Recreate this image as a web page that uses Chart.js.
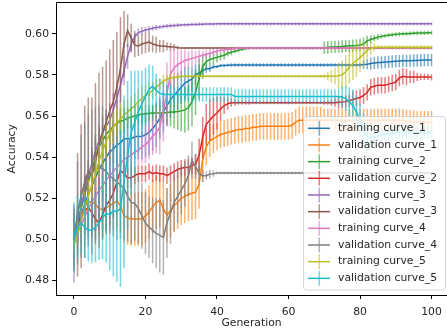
<!DOCTYPE html>
<html>
<head>
<meta charset="utf-8">
<script src="https://cdn.jsdelivr.net/npm/chart.js@4/dist/chart.umd.min.js"></script>
<style>
  html, body { margin: 0; padding: 0; background: #fff; }
  canvas { display: block; }
</style>
</head>
<body>
<canvas id="chart" width="447" height="331"></canvas>
<script>
// x values (generation number)
var generations = [0,1,2,3,4,5,6,7,8,9,10,11,12,13,14,15,16,17,18,19,20,21,22,23,24,25,26,27,28,29,30,31,32,33,34,35,36,37,38,39,40,41,42,43,44,45,46,47,48,49,50,51,52,53,54,55,56,57,58,59,60,61,62,63,64,65,66,67,68,69,70,71,72,73,74,75,76,77,78,79,80,81,82,83,84,85,86,87,88,89,90,91,92,93,94,95,96,97,98,99,100];

// training curve_1
var trainMean1 = [
  0.500,0.506,0.512,0.517,0.522,0.526,0.530,0.534,0.537,0.540,
  0.5425,0.544,0.546,0.547,0.549,0.549,0.549,0.550,0.550,0.550,
  0.551,0.552,0.554,0.556,0.559,0.562,0.565,0.568,0.570,0.572,
  0.574,0.576,0.577,0.578,0.580,0.581,0.582,0.583,0.583,0.584,
  0.584,0.5845,0.5845,0.5847,0.5848,0.5848,0.5848,0.5848,0.5848,0.5848,
  0.5848,0.5848,0.5848,0.5848,0.5848,0.5848,0.5848,0.5848,0.5848,0.5848,
  0.5848,0.5848,0.5848,0.5848,0.5848,0.5848,0.5848,0.5848,0.5848,0.5848,
  0.5848,0.5848,0.5848,0.5848,0.5848,0.5848,0.5848,0.5848,0.5848,0.5848,
  0.5848,0.585,0.5852,0.5855,0.5858,0.586,0.586,0.5862,0.5863,0.5865,
  0.5866,0.5867,0.5868,0.5868,0.5869,0.587,0.587,0.5871,0.5872,0.5872,
  0.5872];
var trainErr1 = [
  0.004,0.008,0.009,0.010,0.010,0.010,0.010,0.010,0.010,0.010,
  0.010,0.010,0.010,0.010,0.011,0.011,0.011,0.011,0.011,0.011,
  0.011,0.011,0.011,0.011,0.010,0.010,0.010,0.009,0.009,0.009,
  0.008,0.008,0.007,0.006,0.005,0.004,0.003,0.002,0.0015,0.001,
  0.0008,0.0008,0.0008,0.0008,0.0008,0.0008,0.0008,0.0008,0.0008,0.0008,
  0.0008,0.0008,0.0008,0.0008,0.0008,0.0008,0.0008,0.0008,0.0008,0.0008,
  0.0008,0.0008,0.0008,0.0008,0.0008,0.0008,0.0008,0.0008,0.0008,0.0008,
  0.0008,0.0008,0.0008,0.0008,0.0008,0.0008,0.0008,0.0008,0.0008,0.0008,
  0.001,0.002,0.0025,0.003,0.003,0.003,0.003,0.003,0.003,0.003,
  0.003,0.003,0.003,0.003,0.003,0.003,0.003,0.003,0.003,0.003,
  0.003];

// validation curve_1
var valMean1 = [
  0.500,0.505,0.511,0.516,0.518,0.5185,0.517,0.515,0.5145,0.5155,
  0.5165,0.5175,0.5187,0.5165,0.5115,0.5105,0.510,0.510,0.510,0.510,
  0.5115,0.5134,0.516,0.518,0.519,0.515,0.5118,0.514,0.5166,0.518,
  0.520,0.521,0.522,0.5225,0.523,0.527,0.539,0.545,0.548,0.549,
  0.550,0.551,0.5515,0.552,0.5525,0.553,0.5535,0.5535,0.554,0.554,
  0.5545,0.5545,0.555,0.555,0.555,0.555,0.555,0.555,0.555,0.555,
  0.555,0.5555,0.557,0.558,0.558,0.558,0.558,0.558,0.558,0.558,
  0.558,0.558,0.558,0.558,0.558,0.558,0.558,0.558,0.558,0.558,
  0.558,0.558,0.558,0.558,0.558,0.558,0.558,0.558,0.558,0.558,
  0.558,0.558,0.5578,0.5576,0.5574,0.5572,0.557,0.557,0.557,0.557,
  0.557];
var valErr1 = [
  0.005,0.012,0.013,0.013,0.013,0.013,0.013,0.013,0.013,0.013,
  0.013,0.013,0.013,0.013,0.013,0.013,0.013,0.013,0.013,0.013,
  0.013,0.013,0.013,0.013,0.013,0.013,0.013,0.013,0.013,0.013,
  0.013,0.013,0.013,0.013,0.013,0.012,0.011,0.009,0.008,0.007,
  0.0065,0.0065,0.0065,0.0065,0.0065,0.0065,0.0065,0.0065,0.0065,0.0065,
  0.0065,0.0065,0.0065,0.0065,0.0065,0.0065,0.0065,0.0065,0.0065,0.0065,
  0.0065,0.0065,0.0065,0.0065,0.0065,0.0065,0.0065,0.0065,0.0065,0.0065,
  0.0055,0.0055,0.0055,0.0055,0.0055,0.0055,0.0055,0.0055,0.0055,0.0055,
  0.0055,0.0055,0.0055,0.0055,0.0055,0.0055,0.0055,0.0055,0.0055,0.0055,
  0.0055,0.0055,0.0055,0.0055,0.0055,0.0055,0.0055,0.0055,0.0055,0.0055,
  0.0055];

// training curve_2
var trainMean2 = [
  0.500,0.508,0.515,0.522,0.528,0.534,0.540,0.545,0.548,0.551,
  0.553,0.555,0.5565,0.5575,0.558,0.559,0.5595,0.560,0.5605,0.561,
  0.561,0.5613,0.5615,0.5615,0.5615,0.5615,0.5617,0.562,0.562,0.5622,
  0.5625,0.563,0.564,0.567,0.5715,0.578,0.584,0.5865,0.5875,0.588,
  0.5885,0.589,0.5895,0.5905,0.591,0.5915,0.592,0.5925,0.5928,0.593,
  0.593,0.593,0.593,0.593,0.593,0.593,0.593,0.593,0.593,0.593,
  0.593,0.593,0.593,0.593,0.593,0.593,0.593,0.593,0.593,0.593,
  0.5932,0.5934,0.5935,0.5936,0.5937,0.5938,0.594,0.5941,0.5942,0.5943,
  0.5945,0.595,0.5965,0.5972,0.5978,0.5983,0.5987,0.599,0.5993,0.5995,
  0.5997,0.5998,0.600,0.600,0.6001,0.6002,0.6003,0.6004,0.6004,0.6005,
  0.6005];
var trainErr2 = [
  0.003,0.007,0.008,0.009,0.009,0.009,0.009,0.009,0.008,0.008,
  0.007,0.007,0.006,0.006,0.006,0.005,0.005,0.005,0.005,0.005,
  0.004,0.004,0.004,0.004,0.004,0.005,0.006,0.007,0.008,0.009,
  0.010,0.011,0.011,0.012,0.011,0.010,0.006,0.004,0.003,0.003,
  0.0025,0.002,0.002,0.0015,0.0015,0.001,0.001,0.001,0.0008,0.0008,
  0.0007,0.0007,0.0007,0.0007,0.0007,0.0007,0.0007,0.0007,0.0007,0.0007,
  0.0007,0.0007,0.0007,0.0007,0.0007,0.0007,0.0007,0.0007,0.0007,0.0007,
  0.003,0.003,0.003,0.003,0.003,0.003,0.003,0.003,0.003,0.003,
  0.003,0.003,0.0025,0.002,0.0015,0.0015,0.0012,0.001,0.001,0.001,
  0.001,0.001,0.001,0.001,0.001,0.001,0.001,0.001,0.001,0.001,
  0.001];

// validation curve_2
var valMean2 = [
  0.500,0.507,0.512,0.514,0.5157,0.513,0.510,0.508,0.512,0.5166,
  0.519,0.5225,0.528,0.5336,0.532,0.530,0.530,0.531,0.532,0.532,
  0.532,0.533,0.532,0.5325,0.532,0.532,0.531,0.532,0.533,0.534,
  0.5346,0.535,0.535,0.536,0.5365,0.541,0.5497,0.556,0.558,0.560,
  0.5615,0.5635,0.565,0.566,0.5665,0.5665,0.5665,0.5665,0.5665,0.5665,
  0.5665,0.5665,0.5665,0.5665,0.5665,0.5665,0.5665,0.5665,0.5665,0.5665,
  0.5665,0.5665,0.5665,0.5665,0.5665,0.5665,0.5665,0.5665,0.5665,0.5665,
  0.5665,0.5665,0.5665,0.5665,0.5667,0.5668,0.567,0.5675,0.568,0.5685,
  0.569,0.570,0.5715,0.574,0.5745,0.575,0.575,0.575,0.5755,0.576,
  0.5765,0.5785,0.5793,0.579,0.579,0.579,0.579,0.579,0.579,0.579,
  0.5788];
var valErr2 = [
  0.004,0.008,0.010,0.012,0.012,0.012,0.012,0.012,0.012,0.012,
  0.012,0.012,0.010,0.008,0.006,0.005,0.005,0.004,0.004,0.004,
  0.004,0.004,0.004,0.004,0.004,0.004,0.004,0.004,0.004,0.004,
  0.004,0.004,0.004,0.004,0.005,0.008,0.010,0.010,0.010,0.009,
  0.008,0.006,0.004,0.003,0.002,0.0015,0.001,0.001,0.001,0.001,
  0.0008,0.0008,0.0008,0.0008,0.0008,0.0008,0.0008,0.0008,0.0008,0.0008,
  0.0008,0.0008,0.0008,0.0008,0.0008,0.0008,0.0008,0.0008,0.0008,0.0008,
  0.001,0.001,0.0015,0.002,0.003,0.003,0.003,0.003,0.004,0.004,
  0.004,0.004,0.004,0.004,0.004,0.004,0.004,0.004,0.004,0.004,
  0.004,0.004,0.004,0.004,0.003,0.003,0.002,0.0015,0.0015,0.0015,
  0.0015];

// training curve_3
var trainMean3 = [
  0.498,0.508,0.516,0.524,0.531,0.537,0.543,0.548,0.552,0.555,
  0.558,0.563,0.569,0.575,0.582,0.589,0.595,0.5985,0.6005,0.6012,
  0.6018,0.6022,0.6026,0.603,0.6032,0.6035,0.6037,0.6039,0.604,0.6041,
  0.6042,0.6043,0.6044,0.6045,0.6045,0.6046,0.6046,0.6047,0.6047,0.6047,
  0.6048,0.6048,0.6048,0.6048,0.6048,0.6048,0.6048,0.6048,0.6048,0.6048,
  0.6048,0.6048,0.6048,0.6048,0.6048,0.6048,0.6048,0.6048,0.6048,0.6048,
  0.6048,0.6048,0.6048,0.6048,0.6048,0.6048,0.6048,0.6048,0.6048,0.6048,
  0.6048,0.6048,0.6048,0.6048,0.6048,0.6048,0.6048,0.6048,0.6048,0.6048,
  0.6048,0.6048,0.6048,0.6048,0.6048,0.6048,0.6048,0.6048,0.6048,0.6048,
  0.6048,0.6048,0.6048,0.6048,0.6048,0.6048,0.6048,0.6048,0.6048,0.6048,
  0.6048];
var trainErr3 = [
  0.019,0.008,0.008,0.008,0.008,0.008,0.008,0.008,0.008,0.008,
  0.008,0.008,0.008,0.008,0.007,0.006,0.004,0.003,0.002,0.002,
  0.0015,0.0015,0.0012,0.0012,0.001,0.001,0.001,0.001,0.001,0.001,
  0.0008,0.0008,0.0008,0.0008,0.0008,0.0008,0.0008,0.0008,0.0008,0.0008,
  0.0008,0.0008,0.0008,0.0008,0.0008,0.0008,0.0008,0.0008,0.0008,0.0008,
  0.0008,0.0008,0.0008,0.0008,0.0008,0.0008,0.0008,0.0008,0.0008,0.0008,
  0.0008,0.0008,0.0008,0.0008,0.0008,0.0008,0.0008,0.0008,0.0008,0.0008,
  0.0008,0.0008,0.0008,0.0008,0.0008,0.0008,0.0008,0.0008,0.0008,0.0008,
  0.0008,0.0008,0.0008,0.0008,0.0008,0.0008,0.0008,0.0008,0.0008,0.0008,
  0.0008,0.0008,0.0008,0.0008,0.0008,0.0008,0.0008,0.0008,0.0008,0.0008,
  0.0008];

// validation curve_3
var valMean3 = [
  0.500,0.512,0.521,0.528,0.533,0.531,0.538,0.546,0.552,0.557,
  0.5625,0.567,0.574,0.583,0.595,0.6015,0.598,0.5945,0.594,0.595,
  0.5955,0.596,0.595,0.5945,0.594,0.594,0.5938,0.5935,0.5935,0.5932,
  0.593,0.593,0.593,0.593,0.593,0.593,0.593,0.593,0.593,0.593,
  0.593,0.593,0.593,0.593,0.593,0.593,0.593,0.593,0.593,0.593,
  0.593,0.593,0.593,0.593,0.593,0.593,0.593,0.593,0.593,0.593,
  0.593,0.593,0.593,0.593,0.593,0.593,0.593,0.593,0.593,0.593,
  0.593,0.593,0.593,0.593,0.593,0.593,0.593,0.593,0.593,0.593,
  0.593,0.593,0.593,0.593,0.593,0.593,0.593,0.593,0.593,0.593,
  0.593,0.593,0.593,0.593,0.593,0.593,0.593,0.593,0.593,0.593,
  0.593];
var valErr3 = [
  0.015,0.030,0.035,0.037,0.036,0.038,0.038,0.035,0.032,0.030,
  0.030,0.030,0.027,0.025,0.016,0.008,0.007,0.006,0.005,0.005,
  0.005,0.005,0.004,0.004,0.003,0.003,0.002,0.002,0.0015,0.001,
  0.0006,0.0006,0.0006,0.0006,0.0006,0.0006,0.0006,0.0006,0.0006,0.0006,
  0.0006,0.0006,0.0006,0.0006,0.0006,0.0006,0.0006,0.0006,0.0006,0.0006,
  0.0006,0.0006,0.0006,0.0006,0.0006,0.0006,0.0006,0.0006,0.0006,0.0006,
  0.0006,0.0006,0.0006,0.0006,0.0006,0.0006,0.0006,0.0006,0.0006,0.0006,
  0.0006,0.0006,0.0006,0.0006,0.0006,0.0006,0.0006,0.0006,0.0006,0.0006,
  0.0006,0.0006,0.0006,0.0006,0.0006,0.0006,0.0006,0.0006,0.0006,0.0006,
  0.0006,0.0006,0.0006,0.0006,0.0006,0.0006,0.0006,0.0006,0.0006,0.0006,
  0.0006];

// training curve_4
var trainMean4 = [
  0.500,0.503,0.507,0.511,0.515,0.518,0.521,0.524,0.526,0.529,
  0.531,0.533,0.535,0.537,0.539,0.540,0.541,0.5425,0.5435,0.545,
  0.546,0.548,0.550,0.552,0.5545,0.5625,0.571,0.5805,0.5835,0.585,
  0.586,0.587,0.5875,0.588,0.5885,0.589,0.5895,0.590,0.5905,0.591,
  0.5915,0.592,0.592,0.5925,0.5925,0.5928,0.593,0.593,0.593,0.593,
  0.593,0.593,0.593,0.593,0.593,0.593,0.593,0.593,0.593,0.593,
  0.593,0.593,0.593,0.593,0.593,0.593,0.593,0.593,0.593,0.593,
  0.593,0.593,0.593,0.593,0.593,0.593,0.593,0.593,0.593,0.593,
  0.593,0.593,0.593,0.593,0.593,0.593,0.593,0.593,0.593,0.593,
  0.593,0.593,0.593,0.593,0.593,0.593,0.593,0.593,0.593,0.593,
  0.593];
var trainErr4 = [
  0.004,0.006,0.007,0.008,0.008,0.008,0.008,0.008,0.008,0.008,
  0.008,0.008,0.008,0.008,0.008,0.008,0.008,0.008,0.008,0.008,
  0.009,0.009,0.009,0.010,0.013,0.015,0.015,0.012,0.010,0.007,
  0.006,0.005,0.004,0.004,0.003,0.003,0.002,0.002,0.002,0.0015,
  0.0012,0.001,0.001,0.001,0.0008,0.0008,0.0008,0.0006,0.0006,0.0006,
  0.0006,0.0006,0.0006,0.0006,0.0006,0.0006,0.0006,0.0006,0.0006,0.0006,
  0.0006,0.0006,0.0006,0.0006,0.0006,0.0006,0.0006,0.0006,0.0006,0.0006,
  0.0006,0.0006,0.0006,0.0006,0.0006,0.0006,0.0006,0.0006,0.0006,0.0006,
  0.0006,0.0006,0.0006,0.0006,0.0006,0.0006,0.0006,0.0006,0.0006,0.0006,
  0.0006,0.0006,0.0006,0.0006,0.0006,0.0006,0.0006,0.0006,0.0006,0.0006,
  0.0006];

// validation curve_4
var valMean4 = [
  0.500,0.513,0.521,0.527,0.531,0.533,0.534,0.535,0.5345,0.533,
  0.531,0.5295,0.528,0.5265,0.525,0.521,0.518,0.5175,0.515,0.5115,
  0.508,0.506,0.5045,0.503,0.502,0.501,0.508,0.513,0.518,0.521,
  0.524,0.527,0.531,0.5385,0.5355,0.532,0.531,0.531,0.5318,0.532,
  0.5323,0.5323,0.5323,0.5323,0.5323,0.5323,0.5323,0.5323,0.5323,0.5323,
  0.5323,0.5323,0.5323,0.5323,0.5323,0.5323,0.5323,0.5323,0.5323,0.5323,
  0.5323,0.5323,0.5323,0.5323,0.5323,0.5323,0.5323,0.5323,0.5323,0.5323,
  0.5323,0.5323,0.5323,0.5323,0.5323,0.5323,0.5323,0.5323,0.5323,0.5323,
  0.5323,0.5323,0.5323,0.5323,0.5323,0.5323,0.5323,0.5323,0.5323,0.5323,
  0.5323,0.5323,0.5323,0.5323,0.5323,0.5323,0.5323,0.5323,0.5323,0.5323,
  0.5323];
var valErr4 = [
  0.012,0.025,0.030,0.030,0.030,0.030,0.030,0.030,0.030,0.030,
  0.028,0.028,0.028,0.026,0.025,0.022,0.020,0.018,0.017,0.016,
  0.015,0.015,0.016,0.017,0.018,0.018,0.017,0.015,0.014,0.013,
  0.012,0.011,0.010,0.009,0.006,0.004,0.003,0.002,0.002,0.0015,
  0.0006,0.0006,0.0006,0.0006,0.0006,0.0006,0.0006,0.0006,0.0006,0.0006,
  0.0006,0.0006,0.0006,0.0006,0.0006,0.0006,0.0006,0.0006,0.0006,0.0006,
  0.0006,0.0006,0.0006,0.0006,0.0006,0.0006,0.0006,0.0006,0.0006,0.0006,
  0.0006,0.0006,0.0006,0.0006,0.0006,0.0006,0.0006,0.0006,0.0006,0.0006,
  0.0006,0.0006,0.0006,0.0006,0.0006,0.0006,0.0006,0.0006,0.0006,0.0006,
  0.0006,0.0006,0.0006,0.0006,0.0006,0.0006,0.0006,0.0006,0.0006,0.0006,
  0.0006];

// training curve_5
var trainMean5 = [
  0.497,0.503,0.509,0.515,0.521,0.527,0.532,0.538,0.543,0.5475,
  0.5515,0.5545,0.557,0.5585,0.5605,0.562,0.5635,0.565,0.567,0.5685,
  0.570,0.571,0.5725,0.574,0.5755,0.577,0.578,0.5785,0.5788,0.579,
  0.5793,0.5793,0.5793,0.5793,0.5793,0.5793,0.5793,0.5793,0.5793,0.5793,
  0.5793,0.5793,0.5793,0.5793,0.5793,0.5793,0.5793,0.5793,0.5793,0.5793,
  0.5793,0.5793,0.5793,0.5793,0.5793,0.5793,0.5793,0.5793,0.5793,0.5793,
  0.5793,0.5793,0.5793,0.5793,0.5793,0.5793,0.5793,0.5793,0.5793,0.5793,
  0.5793,0.5793,0.5793,0.5794,0.5796,0.580,0.5815,0.5838,0.5855,0.587,
  0.5885,0.590,0.592,0.5928,0.5933,0.5934,0.5934,0.5934,0.5934,0.5934,
  0.5934,0.5934,0.5934,0.5934,0.5934,0.5934,0.5934,0.5934,0.5934,0.5934,
  0.5934];
var trainErr5 = [
  0.003,0.006,0.007,0.008,0.008,0.008,0.008,0.008,0.008,0.008,
  0.008,0.008,0.007,0.007,0.007,0.006,0.006,0.006,0.006,0.006,
  0.005,0.005,0.004,0.004,0.003,0.003,0.002,0.002,0.0015,0.001,
  0.0006,0.0006,0.0006,0.0006,0.0006,0.0006,0.0006,0.0006,0.0006,0.0006,
  0.0006,0.0006,0.0006,0.0006,0.0006,0.0006,0.0006,0.0006,0.0006,0.0006,
  0.0006,0.0006,0.0006,0.0006,0.0006,0.0006,0.0006,0.0006,0.0006,0.0006,
  0.0006,0.0006,0.0006,0.0006,0.0006,0.0006,0.0006,0.0006,0.0006,0.0006,
  0.001,0.002,0.003,0.004,0.006,0.007,0.008,0.008,0.008,0.008,
  0.007,0.006,0.004,0.003,0.002,0.001,0.001,0.001,0.001,0.001,
  0.001,0.001,0.001,0.001,0.001,0.001,0.001,0.001,0.001,0.001,
  0.001];

// validation curve_5
var valMean5 = [
  0.501,0.506,0.508,0.506,0.5045,0.5045,0.506,0.508,0.5105,0.5128,
  0.512,0.514,0.5135,0.515,0.528,0.541,0.552,0.557,0.562,0.566,
  0.5695,0.573,0.5745,0.5725,0.571,0.5705,0.5705,0.5705,0.5705,0.5705,
  0.5705,0.5705,0.5705,0.5705,0.5705,0.5705,0.5705,0.5705,0.5705,0.5705,
  0.5705,0.5705,0.5705,0.5705,0.5705,0.5695,0.5695,0.5695,0.5695,0.5695,
  0.5695,0.5695,0.5695,0.5695,0.5695,0.5695,0.5695,0.5695,0.5695,0.5695,
  0.5695,0.5695,0.5695,0.5695,0.5695,0.5695,0.5695,0.5695,0.5695,0.5695,
  0.5695,0.5695,0.5695,0.5695,0.5695,0.5693,0.5685,0.567,0.565,0.562,
  0.558,0.5535,0.550,0.5495,0.550,0.5505,0.551,0.551,0.5515,0.5515,
  0.552,0.552,0.552,0.552,0.552,0.552,0.552,0.552,0.552,0.552,
  0.552];
var valErr5 = [
  0.017,0.015,0.015,0.015,0.015,0.016,0.017,0.018,0.020,0.024,
  0.027,0.032,0.034,0.038,0.042,0.036,0.030,0.025,0.020,0.016,
  0.014,0.012,0.010,0.008,0.007,0.006,0.005,0.005,0.004,0.004,
  0.0035,0.0035,0.0035,0.0035,0.0035,0.0035,0.0035,0.0035,0.0035,0.0035,
  0.0035,0.0035,0.0035,0.0035,0.0035,0.0035,0.0035,0.0035,0.0035,0.0035,
  0.0035,0.0035,0.0035,0.0035,0.0035,0.0035,0.0035,0.0035,0.0035,0.0035,
  0.0035,0.0035,0.0035,0.0035,0.0035,0.0035,0.0035,0.0035,0.0035,0.0035,
  0.0035,0.0035,0.0035,0.0035,0.004,0.005,0.006,0.007,0.008,0.008,
  0.008,0.008,0.008,0.006,0.004,0.003,0.003,0.003,0.003,0.003,
  0.003,0.003,0.003,0.003,0.003,0.003,0.003,0.003,0.003,0.003,
  0.003];

var seriesLabels = ['training curve_1','validation curve_1','training curve_2','validation curve_2',
  'training curve_3','validation curve_3','training curve_4','validation curve_4',
  'training curve_5','validation curve_5'];
var seriesMeans = [trainMean1, valMean1, trainMean2, valMean2, trainMean3, valMean3, trainMean4, valMean4, trainMean5, valMean5];
var seriesErrs = [trainErr1, valErr1, trainErr2, valErr2, trainErr3, valErr3, trainErr4, valErr4, trainErr5, valErr5];
var seriesColors = ['#1f77b4','#ff7f0e','#2ca02c','#d62728','#9467bd','#8c564b','#e377c2','#7f7f7f','#bcbd22','#17becf'];

var xTicks = [0, 20, 40, 60, 80, 100];
var yTicks = [0.48, 0.50, 0.52, 0.54, 0.56, 0.58, 0.60];

var FONT = '"DejaVu Sans", sans-serif';
var TEXT = '#262626';

// vertical error bars, drawn just before each line
var errorBars = {
  id: 'errorBars',
  beforeDatasetDraw: function(chart, args) {
    var ds = chart.data.datasets[args.index];
    var xs = chart.scales.x, ys = chart.scales.y, a = chart.chartArea;
    var ctx = chart.ctx;
    ctx.save();
    ctx.beginPath();
    ctx.rect(a.left, a.top, a.right - a.left, a.bottom - a.top);
    ctx.clip();
    ctx.globalAlpha = 0.6;
    ctx.strokeStyle = ds.borderColor;
    ctx.lineWidth = 1.5;
    ctx.beginPath();
    ds.data.forEach(function(p, i) {
      var x = xs.getPixelForValue(p.x);
      ctx.moveTo(x, ys.getPixelForValue(p.y - ds.yErr[i]));
      ctx.lineTo(x, ys.getPixelForValue(p.y + ds.yErr[i]));
    });
    ctx.stroke();
    ctx.restore();
  }
};

// top spine + matplotlib style legend box over the data
var frameAndLegend = {
  id: 'frameAndLegend',
  afterDatasetsDraw: function(chart) {
    var ctx = chart.ctx, a = chart.chartArea;
    ctx.save();
    ctx.strokeStyle = '#000';
    ctx.lineWidth = 1;
    ctx.beginPath();
    ctx.moveTo(a.left, a.top);
    ctx.lineTo(a.right, a.top);
    ctx.stroke();

    var bx = 303.5, by = 116.5, bw = 142, bh = 173.5, r = 3;
    ctx.beginPath();
    ctx.moveTo(bx + r, by);
    ctx.arcTo(bx + bw, by, bx + bw, by + bh, r);
    ctx.arcTo(bx + bw, by + bh, bx, by + bh, r);
    ctx.arcTo(bx, by + bh, bx, by, r);
    ctx.arcTo(bx, by, bx + bw, by, r);
    ctx.closePath();
    ctx.fillStyle = 'rgba(255,255,255,0.8)';
    ctx.fill();
    ctx.strokeStyle = 'rgba(204,204,204,0.8)';
    ctx.stroke();

    ctx.font = '10.8px ' + FONT;
    ctx.textBaseline = 'middle';
    ctx.textAlign = 'left';
    chart.data.datasets.forEach(function(ds, i) {
      var y = 128.3 + i * 16.67;
      ctx.strokeStyle = ds.borderColor;
      ctx.lineWidth = 1.5;
      ctx.globalAlpha = 1;
      ctx.beginPath();
      ctx.moveTo(308, y);
      ctx.lineTo(330, y);
      ctx.stroke();
      ctx.globalAlpha = 0.6;
      ctx.beginPath();
      ctx.moveTo(319.3, y - 7.5);
      ctx.lineTo(319.3, y + 7.5);
      ctx.stroke();
      ctx.globalAlpha = 1;
      ctx.fillStyle = TEXT;
      ctx.fillText(ds.label, 338, y);
    });
    ctx.restore();
  }
};

var datasets = seriesLabels.map(function(label, i) {
  return {
    label: label,
    data: generations.map(function(g, j) { return { x: g, y: seriesMeans[i][j] }; }),
    yErr: seriesErrs[i],
    borderColor: seriesColors[i],
    backgroundColor: seriesColors[i],
    borderWidth: 1.5,
    pointRadius: 0,
    tension: 0,
    fill: false,
    order: -i
  };
});

new Chart(document.getElementById('chart'), {
  type: 'line',
  data: { datasets: datasets },
  options: {
    responsive: false,
    animation: false,
    devicePixelRatio: 1,
    layout: { padding: { top: 2.5, right: 0, bottom: 0, left: 0 } },
    plugins: {
      legend: { display: false },
      tooltip: { enabled: false }
    },
    scales: {
      x: {
        type: 'linear',
        min: -5.03,
        max: 104.33,
        afterBuildTicks: function(s) { s.ticks = xTicks.map(function(v) { return { value: v }; }); },
        afterFit: function(s) { s.height = 36; s.paddingLeft = 0; s.paddingRight = 0; },
        ticks: {
          autoSkip: false, maxRotation: 0, padding: 6.5,
          color: TEXT, font: { family: FONT, size: 10.8 },
          callback: function(v) { return String(v); }
        },
        grid: { display: true, drawOnChartArea: false, drawTicks: true, tickLength: 4, color: '#000' },
        border: { display: true, color: '#000', width: 1, z: 1 },
        title: { display: true, text: 'Generation', color: TEXT, font: { family: FONT, size: 10.8 }, padding: { top: 0, bottom: 1 } }
      },
      y: {
        type: 'linear',
        min: 0.47305,
        max: 0.61516,
        afterBuildTicks: function(s) { s.ticks = yTicks.map(function(v) { return { value: v }; }); },
        afterFit: function(s) { s.width = 56; s.paddingTop = 0; s.paddingBottom = 0; },
        ticks: {
          padding: 3,
          color: TEXT, font: { family: FONT, size: 10.8 },
          callback: function(v) { return v.toFixed(2); }
        },
        grid: { display: true, drawOnChartArea: false, drawTicks: true, tickLength: 4, color: '#000' },
        border: { display: true, color: '#000', width: 1, z: 1 },
        title: { display: true, text: 'Accuracy', color: TEXT, font: { family: FONT, size: 10.8 }, padding: { top: 6, bottom: 0 } }
      }
    }
  },
  plugins: [errorBars, frameAndLegend]
});
</script>
</body>
</html>
